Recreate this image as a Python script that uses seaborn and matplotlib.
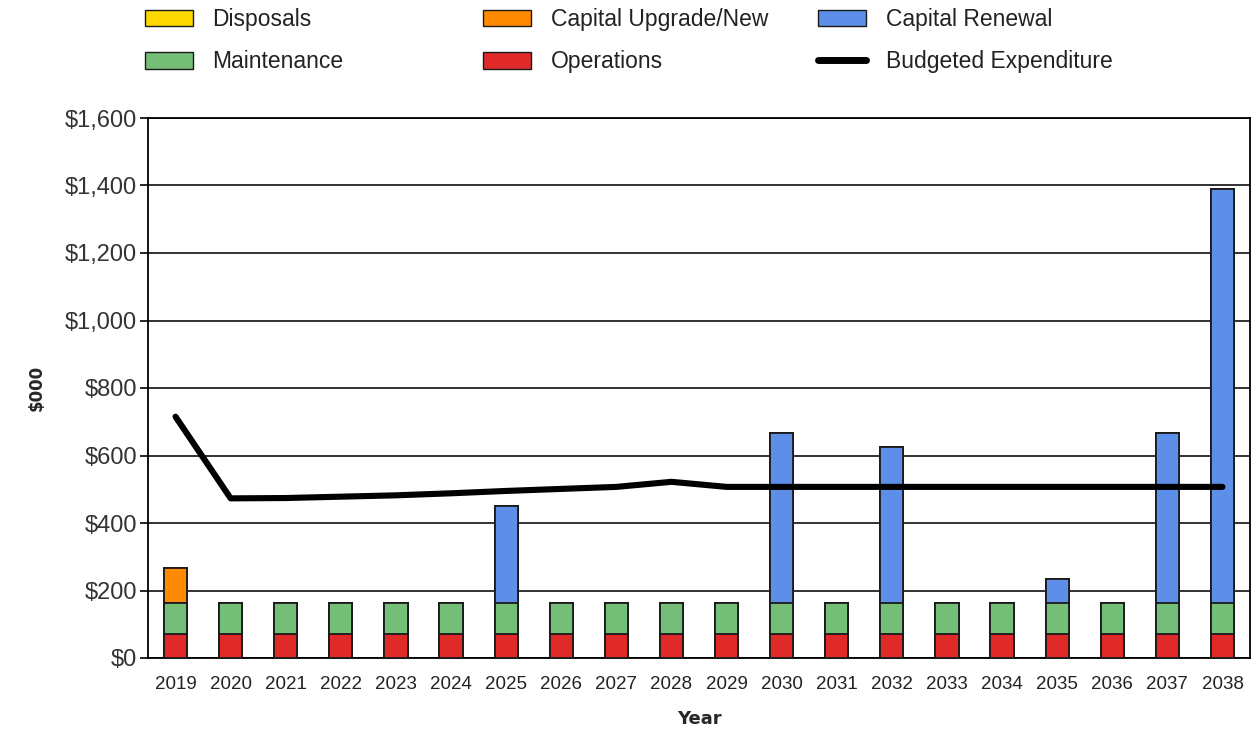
import numpy as np
import pandas as pd
import matplotlib
matplotlib.use("Agg")
import matplotlib.pyplot as plt
from matplotlib.patches import Patch
from matplotlib.lines import Line2D
import seaborn as sns

# Asset expenditure projections ($000)
years = [str(y) for y in range(2019, 2039)]
operations = [70] * 20
maintenance = [94] * 20
capital_renewal = [0, 0, 0, 0, 0, 0, 287, 0, 0, 0, 0, 502, 0, 462, 0, 0, 70, 0, 502, 1225]
capital_upgrade = [102] + [0] * 19
disposals = [0] * 20
budgeted = [715, 473, 474, 478, 482, 488, 495, 501, 507, 522, 507,
            507, 507, 507, 507, 507, 507, 507, 507, 507]

series_names = ["Operations", "Maintenance", "Capital Renewal",
                "Capital Upgrade/New", "Disposals"]
series_values = [operations, maintenance, capital_renewal, capital_upgrade, disposals]
colors = {
    "Disposals": "#FFD800",
    "Capital Upgrade/New": "#FF8A00",
    "Capital Renewal": "#5E8FE8",
    "Maintenance": "#74BE78",
    "Operations": "#E02A2A",
}

sns.set_theme(style="white")
plt.rcParams["font.family"] = ["Liberation Sans", "DejaVu Sans"]

W, H = 1253, 742
fig = plt.figure(figsize=(W / 100, H / 100), dpi=100)
ax = fig.add_axes([148 / W, 1 - 658 / H, 1102 / W, 540 / H])

# Stacked bars: draw cumulative totals from the top layer down
cum = np.cumsum(np.array(series_values), axis=0)
for i in range(len(series_names) - 1, -1, -1):
    name = series_names[i]
    df = pd.DataFrame({"Year": years, "Value": cum[i]})
    sns.barplot(data=df, x="Year", y="Value", color=colors[name], saturation=1,
                width=0.42, edgecolor="#1a1a1a", linewidth=1.3, ax=ax, zorder=3)

# Budget line across category positions
sns.lineplot(x=np.arange(len(years)), y=budgeted, color="black", linewidth=4.4,
             ax=ax, zorder=4)

ax.set_xlim(-0.5, len(years) - 0.5)
ax.set_ylim(0, 1600)
ax.set_yticks(np.arange(0, 1601, 200))
ax.set_yticklabels([f"${v:,}" for v in range(0, 1601, 200)], fontsize=17, color="#333333")
ax.set_xticks(np.arange(len(years)))
ax.set_xticklabels(years, fontsize=13.5, color="#222222")
ax.set_xticks(np.arange(len(years) + 1) - 0.5, minor=True)
ax.tick_params(axis="x", which="major", length=0, pad=13)
ax.tick_params(axis="x", which="minor", length=6, width=1.2, color="black", direction="out")
ax.tick_params(axis="y", length=6, width=1.2, color="black", direction="out", pad=2, left=True)
ax.grid(axis="y", color="#222222", linewidth=1.3, zorder=0)
ax.set_axisbelow(True)
for s in ax.spines.values():
    s.set_color("black")
    s.set_linewidth(1.3)

ax.set_xlabel("Year", fontsize=13, fontweight="bold", family="DejaVu Sans", labelpad=12)
ax.set_ylabel("$000", fontsize=12, fontweight="bold", family="DejaVu Sans", labelpad=14)

# Legend: three columns, two rows, each column placed at its own anchor
edge = "#1a1a1a"
columns = [
    (145, [Patch(facecolor=colors["Disposals"], edgecolor=edge, label="Disposals"),
           Patch(facecolor=colors["Maintenance"], edgecolor=edge, label="Maintenance")]),
    (483, [Patch(facecolor=colors["Capital Upgrade/New"], edgecolor=edge, label="Capital Upgrade/New"),
           Patch(facecolor=colors["Operations"], edgecolor=edge, label="Operations")]),
    (818, [Patch(facecolor=colors["Capital Renewal"], edgecolor=edge, label="Capital Renewal"),
           Line2D([0], [0], color="black", linewidth=5, label="Budgeted Expenditure")]),
]
for x0, hs in columns:
    leg = fig.legend(handles=hs, loc="upper left", bbox_to_anchor=(x0 / W, 1 - 8 / H),
                     frameon=False, fontsize=16.5, handlelength=2.1, handleheight=0.75,
                     handletextpad=0.85, labelspacing=0.85, borderpad=0, borderaxespad=0)
    for t in leg.get_texts():
        t.set_color("#222222")

fig.savefig("out.png", dpi=100)
